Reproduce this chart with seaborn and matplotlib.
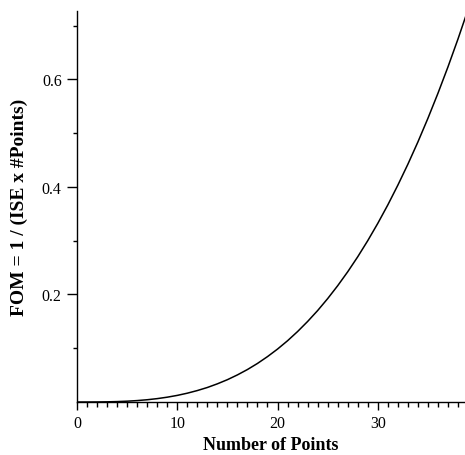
import matplotlib.pyplot as plt
import matplotlib.ticker as mticker
import seaborn as sns
import pandas as pd
import numpy as np

sns.set_style('ticks')
plt.rcParams['font.family'] = ['Liberation Serif', 'DejaVu Serif']
plt.rcParams['text.color'] = 'black'
plt.rcParams['axes.labelcolor'] = 'black'
plt.rcParams['xtick.color'] = 'black'
plt.rcParams['ytick.color'] = 'black'

# values
num_points = list(range(0, 40))
fom = [0.0, 0.00001, 0.0001, 0.00033, 0.00079, 0.00154, 0.00266, 0.00422,
       0.0063, 0.00897, 0.0123, 0.0164, 0.0213, 0.0270, 0.0338, 0.0415,
       0.0504, 0.0604, 0.0717, 0.0844, 0.0984, 0.1139, 0.1310, 0.1497,
       0.1700, 0.1922, 0.2162, 0.2421, 0.2700, 0.3000, 0.3321, 0.3664,
       0.4031, 0.4420, 0.4834, 0.5274, 0.5739, 0.6230, 0.6749, 0.7296]

df = pd.DataFrame({'n': num_points, 'fom': fom})

fig = plt.figure(figsize=(4.65, 4.56), dpi=100)
ax = fig.add_axes([0.1656, 0.1162, 0.8344, 0.8575])
sns.lineplot(x='n', y='fom', data=df, ax=ax, color='black', linewidth=1.1)

ax.set_xlim(0, 38.7)
ax.set_ylim(0, 0.727)
ax.xaxis.set_major_locator(mticker.MultipleLocator(10))
ax.xaxis.set_minor_locator(mticker.MultipleLocator(1))
ax.yaxis.set_major_locator(mticker.FixedLocator([0.2, 0.4, 0.6]))
ax.yaxis.set_minor_locator(mticker.FixedLocator([0.1, 0.3, 0.5, 0.7]))
ax.xaxis.set_major_formatter(mticker.FormatStrFormatter('%d'))
ax.yaxis.set_major_formatter(mticker.FormatStrFormatter('%.1f'))

sns.despine(ax=ax)
for s in ['left', 'bottom']:
    ax.spines[s].set_linewidth(1.0)
    ax.spines[s].set_color('black')
ax.tick_params(axis='x', which='major', length=6, width=1, pad=3, labelsize=11.5)
ax.tick_params(axis='x', which='minor', length=3.5, width=1)
ax.tick_params(axis='y', which='major', length=7, width=1, pad=4, labelsize=11.5)
ax.tick_params(axis='y', which='minor', length=3, width=1)

ax.set_xlabel('Number of Points', fontsize=13, fontweight='bold', labelpad=4)
ax.set_ylabel('FOM = 1 / (ISE x #Points)', fontsize=14, fontweight='bold', labelpad=10)

fig.savefig('out.png', dpi=100)
